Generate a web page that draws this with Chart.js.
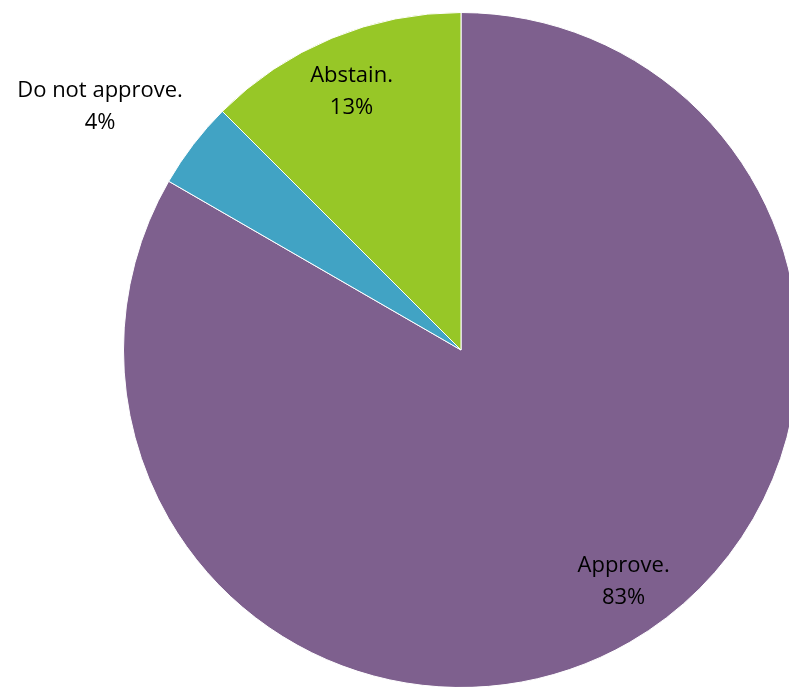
<!DOCTYPE html>
<html>
<head>
<meta charset="utf-8">
<script src="https://cdn.jsdelivr.net/npm/chart.js@4"></script>
<style>
  html, body { margin: 0; padding: 0; background: #fff; overflow: hidden; }
  #wrap { position: absolute; left: 0; top: 0; width: 922px; height: 700px; }
</style>
</head>
<body>
<div id="wrap"><canvas id="pie-chart"></canvas></div>
<script>
var categories = ['Approve.', 'Do not approve.', 'Abstain.'];
var votes = [20, 1, 3];
var sliceColors = ['#7E608E', '#41A3C4', '#97C727'];

var total = votes.reduce(function (a, b) { return a + b; }, 0);

// label placement along each slice's middle angle
var labelPlace = [
  { r: 0.84, turn: -5 },
  { r: 1.29, turn: -3.5 },
  { r: 0.83, turn: -0.5 }
];

var sliceLabels = {
  id: 'sliceLabels',
  afterDatasetsDraw: function (chart) {
    var ctx = chart.ctx;
    var meta = chart.getDatasetMeta(0);
    ctx.save();
    ctx.fillStyle = '#000';
    ctx.font = '22px "Open Sans"';
    ctx.textAlign = 'center';
    ctx.textBaseline = 'middle';
    meta.data.forEach(function (arc, i) {
      var p = arc.getProps(['x', 'y', 'startAngle', 'endAngle', 'outerRadius'], true);
      var mid = (p.startAngle + p.endAngle) / 2 + labelPlace[i].turn * Math.PI / 180;
      var rr = p.outerRadius * labelPlace[i].r;
      var x = p.x + Math.cos(mid) * rr;
      var y = p.y + Math.sin(mid) * rr;
      var pct = Math.round(votes[i] / total * 100) + '%';
      ctx.fillText(categories[i], x, y - 16);
      ctx.fillText(pct, x, y + 16);
    });
    ctx.restore();
  }
};

var ctx = document.getElementById('pie-chart').getContext('2d');

var pieChart = new Chart(ctx, {
  type: 'pie',
  data: {
    labels: categories,
    datasets: [{
      data: votes,
      backgroundColor: sliceColors,
      borderColor: '#ffffff',
      borderWidth: 1
    }]
  },
  options: {
    responsive: true,
    maintainAspectRatio: false,
    animation: false,
    layout: { padding: 12 },
    plugins: {
      legend: { display: false },
      tooltip: { enabled: false }
    }
  },
  plugins: [sliceLabels]
});
</script>
</body>
</html>
